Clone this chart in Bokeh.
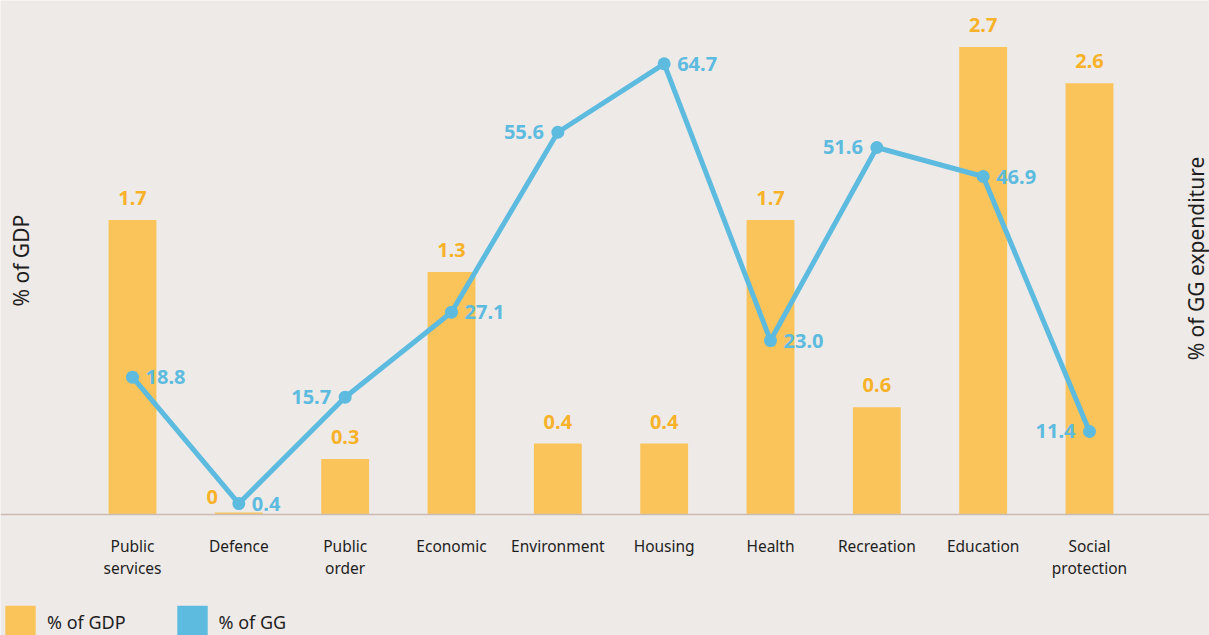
import math
from bokeh.plotting import figure
from bokeh.models import (ColumnDataSource, Range1d, Label, Legend, LegendItem,
                          Span)
from bokeh.core.properties import value
from bokeh.embed import file_html
from bokeh.resources import INLINE

# ---- data ----
categories = ["Public\nservices", "Defence", "Public\norder", "Economic",
              "Environment", "Housing", "Health", "Recreation", "Education",
              "Social\nprotection"]
gdp_values = [1.70, 0.012, 0.32, 1.40, 0.41, 0.41, 1.70, 0.62, 2.70, 2.49]
gdp_labels = ["1.7", "0", "0.3", "1.3", "0.4", "0.4", "1.7", "0.6", "2.7", "2.6"]
gg_values = [18.86, 0.39, 15.93, 28.35, 54.65, 64.65, 24.21, 52.42, 48.18, 10.92]
gg_labels = ["18.8", "0.4", "15.7", "27.1", "55.6", "64.7", "23.0", "51.6", "46.9", "11.4"]

# ---- style ----
BG = "#EEEAE8"
BAR = "#FAC45A"
BAR_TXT = "#F7B229"
BLUE = "#5CBBDF"
INK = "#1E1E1E"
FONT = "Noto Sans"

xs = list(range(len(categories)))

p = figure(width=1209, height=635, output_backend="svg", toolbar_location=None,
           x_range=Range1d(-1.2414, 10.1286), y_range=Range1d(-0.6986, 2.968),
           min_border=0)
p.extra_y_ranges = {"gg": Range1d(-18.89, 73.90)}
p.background_fill_color = BG
p.border_fill_color = BG
p.outline_line_color = None
p.grid.visible = False
p.axis.visible = False

# baseline (x axis line)
p.add_layout(Span(location=0, dimension="width", line_color="#CBBBB3",
                  line_width=1.5))

# category labels
cat_src = ColumnDataSource(dict(x=xs, y=[0] * len(xs), label=categories))
p.text(x="x", y="y", text="label", source=cat_src, y_offset=20,
       text_align="center", text_baseline="top", text_line_height=1.0,
       text_font=value(FONT), text_font_size="15.5px", text_color=INK)

# bars
bar_src = ColumnDataSource(dict(x=xs, top=gdp_values, label=gdp_labels))
bars = p.vbar(x="x", top="top", width=0.45, source=bar_src,
              fill_color=BAR, line_color=None)

# line + dots
gg_src = ColumnDataSource(dict(x=xs, y=gg_values, label=gg_labels))
p.line(x="x", y="y", source=gg_src, y_range_name="gg", line_width=5,
       line_color=BLUE, line_join="round")
p.scatter(x="x", y="y", source=gg_src, y_range_name="gg", size=13,
          fill_color=BLUE, line_color=None)

# gdp value labels
small = [v < 0.05 for v in gdp_values]
gdp_lab_src = ColumnDataSource(dict(
    x=xs, y=gdp_values, label=gdp_labels,
    xo=[-21 if s else 0 for s in small],
    yo=[-15 if s else -22 for s in small],
    al=["right" if s else "center" for s in small]))
p.text(x="x", y="y", text="label", source=gdp_lab_src, x_offset="xo",
       y_offset="yo", text_align="al", text_baseline="alphabetic",
       text_font=value(FONT), text_font_style="bold", text_font_size="20px",
       text_color=BAR_TXT)

# gg value labels
left_side = {2, 4, 7, 9}
gg_lab_src = ColumnDataSource(dict(
    x=xs, y=gg_values, label=gg_labels,
    xo=[-14 if i in left_side else 13 for i in xs],
    al=["right" if i in left_side else "left" for i in xs]))
p.text(x="x", y="y", text="label", source=gg_lab_src, y_range_name="gg",
       x_offset="xo", text_align="al", text_baseline="middle",
       text_font=value(FONT), text_font_style="bold", text_font_size="20px",
       text_color=BLUE)

# axis titles
p.add_layout(Label(x=-1.044, y=1.466, text="% of GDP", angle=math.pi / 2,
                   text_align="center", text_baseline="middle",
                   text_font=FONT, text_font_size="21px", text_color=INK))
p.add_layout(Label(x=10.0, y=1.478, text="% of GG expenditure",
                   angle=math.pi / 2, text_align="center",
                   text_baseline="middle", text_font=FONT,
                   text_font_size="21px", text_color=INK))

# legend swatch for GG (zero-height bar, only used by the legend)
swatch_src = ColumnDataSource(dict(x=xs[:1], top=[0]))
swatch = p.vbar(x="x", top="top", bottom=0, width=0.45, source=swatch_src,
                fill_color=BLUE, line_color=None)

legend = Legend(items=[LegendItem(label="% of GDP", renderers=[bars]),
                       LegendItem(label="% of GG", renderers=[swatch])],
                location=(1, -8), orientation="horizontal",
                glyph_width=38, glyph_height=42, label_standoff=8,
                spacing=47, padding=0, margin=0,
                border_line_color=None, background_fill_alpha=0,
                label_text_font=FONT, label_text_font_size="18px",
                label_text_color=INK)
p.add_layout(legend, "center")

open("out.html", "w").write(file_html(p, INLINE))
